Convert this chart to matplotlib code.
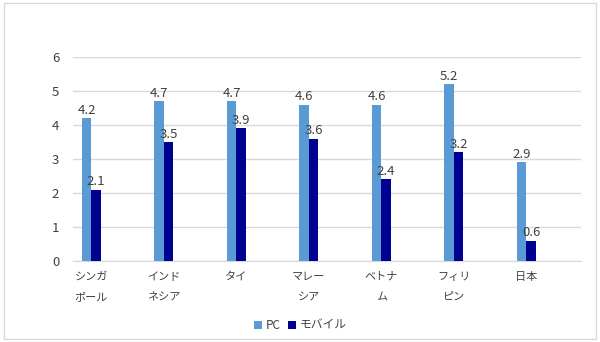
import numpy as np
import matplotlib.pyplot as plt
from matplotlib.patches import Rectangle

plt.rcParams['font.family'] = ['Noto Sans CJK JP', 'DejaVu Sans']

# データ
categories = ['シンガ\nポール', 'インド\nネシア', 'タイ', 'マレー\nシア', 'ベトナ\nム', 'フィリ\nピン', '日本']
pc = [4.2, 4.7, 4.7, 4.6, 4.6, 5.2, 2.9]
mobile = [2.1, 3.5, 3.9, 3.6, 2.4, 3.2, 0.6]

pc_color = '#5B9BD5'
mob_color = '#000091'
grid_color = '#D9D9D9'
text_color = '#404040'

fig = plt.figure(figsize=(6.0, 3.42), dpi=100)
ax = fig.add_axes([0.122, 0.237, 0.846, 0.596])

x = np.arange(len(categories))
w = 0.13
b1 = ax.bar(x - w / 2, pc, w, color=pc_color, label='PC', zorder=3)
b2 = ax.bar(x + w / 2, mobile, w, color=mob_color, label='モバイル', zorder=3)

for bars in (b1, b2):
    ax.bar_label(bars, fmt='%.1f', padding=1, fontsize=9.5, color=text_color)

ax.set_xlim(-0.25, 6.75)
ax.set_ylim(0, 6)
ax.set_yticks(range(0, 7))
ax.grid(axis='y', color=grid_color, linewidth=1, zorder=0)
ax.set_xticks(x)
ax.set_xticklabels(categories, fontsize=8, linespacing=2.2, color=text_color, va='top')
ax.tick_params(axis='x', length=0, pad=8)
ax.tick_params(axis='y', length=0, pad=10, labelsize=9.5, labelcolor=text_color)
for s in ['top', 'right', 'left']:
    ax.spines[s].set_visible(False)
ax.spines['bottom'].set_color(grid_color)

fig.legend(loc='center', bbox_to_anchor=(0.5, 0.048), ncol=2, frameon=False,
           fontsize=8.5, handlelength=0.7, handleheight=0.7, handletextpad=0.3,
           columnspacing=0.6, labelcolor=text_color)

fig.patches.append(Rectangle((0.006, 0.01), 0.988, 0.98, transform=fig.transFigure,
                             fill=False, edgecolor=grid_color, linewidth=1))

fig.savefig('out.png', dpi=100)
